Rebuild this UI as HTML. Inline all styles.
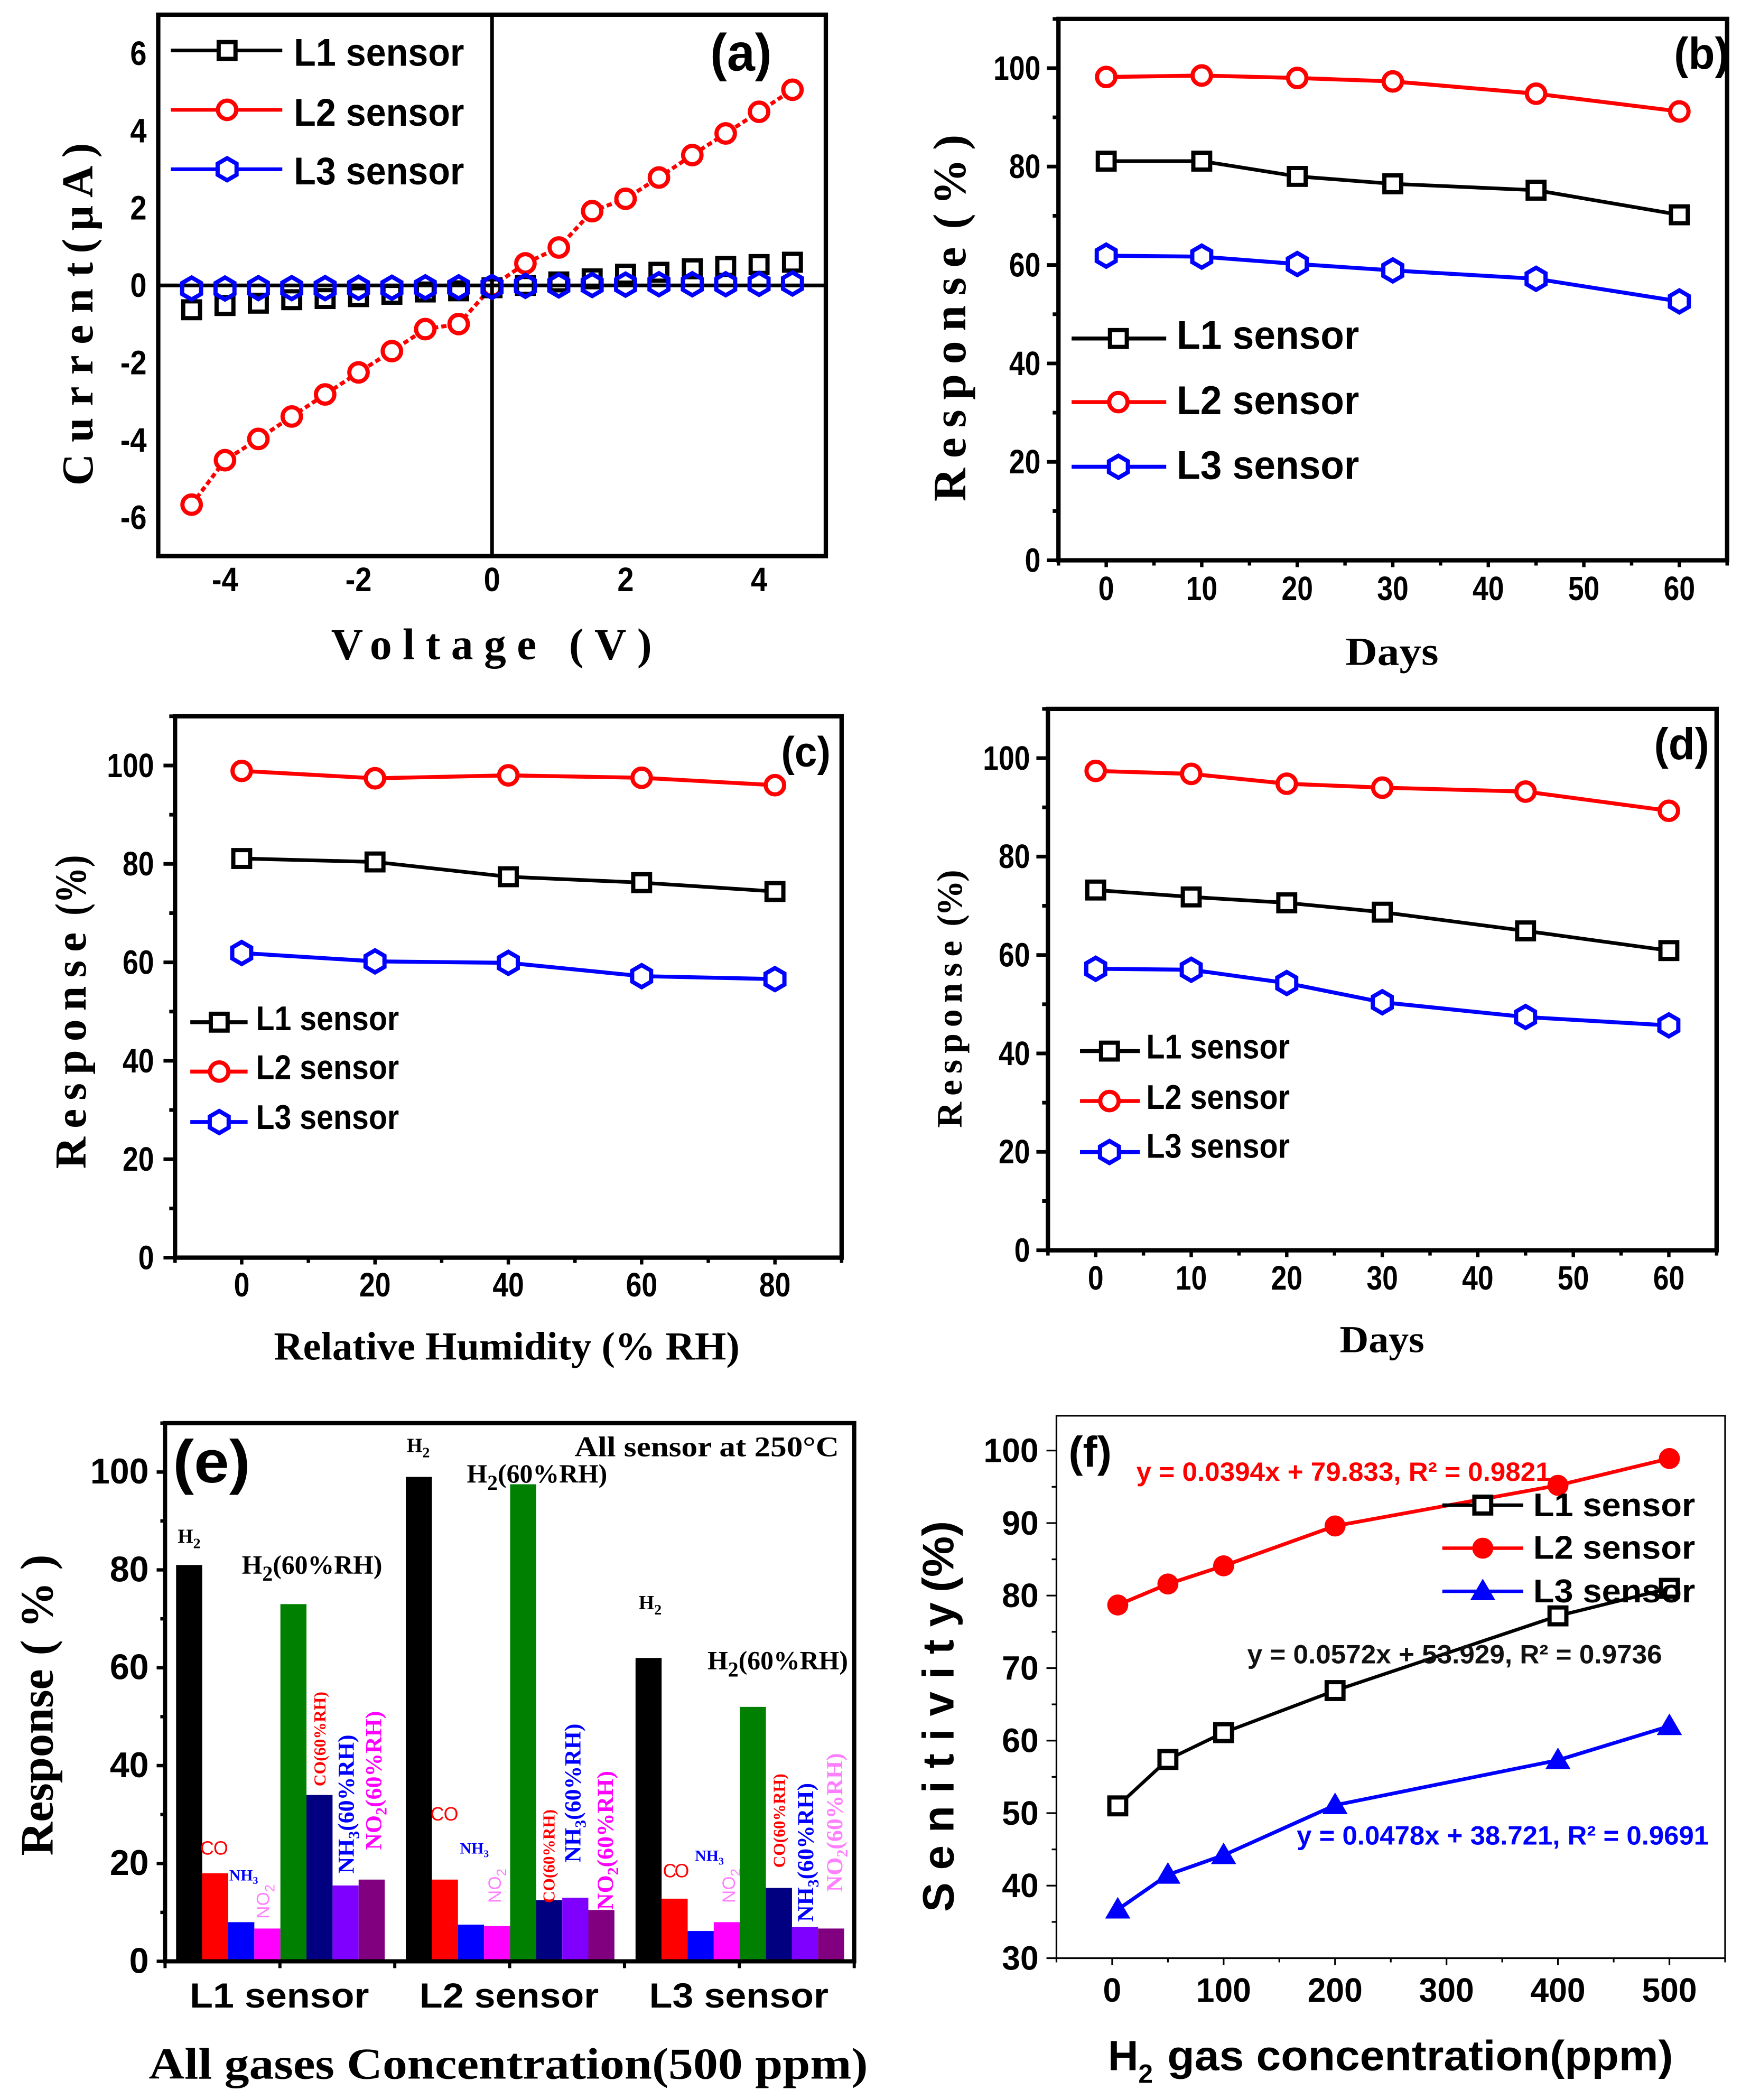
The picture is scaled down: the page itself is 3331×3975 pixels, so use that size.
<!DOCTYPE html>
<html lang="en">
<head>
<meta charset="utf-8">
<title>Gas sensor response charts</title>
<style>
html,body{margin:0;padding:0;background:#fff;}
svg{display:block;}
.s{font-family:"Liberation Sans",sans-serif;font-weight:700;}
.r{font-family:"Liberation Serif",serif;font-weight:700;}
</style>
</head>
<body>
<svg id="fig" xmlns="http://www.w3.org/2000/svg" width="3331" height="3975" viewBox="0 0 3331 3975">
<rect width="3331" height="3975" fill="#fff"/>
<g id="pa" transform="scale(.9949)"></g>
<g id="pb" transform="translate(8.47 0) scale(.9949)"></g>
<g id="pc" transform="translate(0 6.73) scale(.9949)"></g>
<g id="pd" transform="translate(8.47 6.73) scale(.9949)"></g>
<g id="pe" transform="translate(0 13.46) scale(.9949)"></g>
<g id="pf" transform="translate(8.67 13.46) scale(.9949)"></g>

<g transform="scale(.9949)">
<text class="r" x="630" y="1254" font-size="84" textLength="610" lengthAdjust="spacing">Voltage (V)</text>
<text class="r" transform="translate(176 924) rotate(-90)" font-size="84" textLength="425" lengthAdjust="spacing">Current</text>
<text class="r" transform="translate(176 482) rotate(-90)" font-size="84" textLength="210" lengthAdjust="spacing">(μA)</text>
<text class="s" x="559" y="125" font-size="74" textLength="324" lengthAdjust="spacingAndGlyphs">L1 sensor</text>
<text class="s" x="559" y="239" font-size="74" textLength="324" lengthAdjust="spacingAndGlyphs">L2 sensor</text>
<text class="s" x="559" y="351" font-size="74" textLength="324" lengthAdjust="spacingAndGlyphs">L3 sensor</text>
<text class="s" x="1351" y="134" font-size="100" textLength="117" lengthAdjust="spacingAndGlyphs">(a)</text>
</g>

<g transform="translate(8.47 0) scale(.9949)">
<text class="r" x="2551" y="1265" font-size="76" textLength="177" lengthAdjust="spacingAndGlyphs">Days</text>
<text class="r" transform="translate(1828 954) rotate(-90)" font-size="88" textLength="484" lengthAdjust="spacing">Response</text>
<text class="r" transform="translate(1828 436) rotate(-90)" font-size="88" textLength="180" lengthAdjust="spacing">(%)</text>
<text class="s" x="2230" y="664" font-size="76" textLength="347" lengthAdjust="spacingAndGlyphs">L1 sensor</text>
<text class="s" x="2230" y="788" font-size="76" textLength="347" lengthAdjust="spacingAndGlyphs">L2 sensor</text>
<text class="s" x="2230" y="911" font-size="76" textLength="347" lengthAdjust="spacingAndGlyphs">L3 sensor</text>
<text class="s" x="3176" y="131" font-size="85" textLength="105" lengthAdjust="spacingAndGlyphs">(b)</text>
</g>

<g transform="translate(0 6.73) scale(.9949)">
<text class="r" x="521" y="2580" font-size="76" textLength="886" lengthAdjust="spacingAndGlyphs">Relative Humidity (% RH)</text>
<text class="r" transform="translate(163 2217) rotate(-90)" font-size="84" textLength="450" lengthAdjust="spacing">Response</text>
<text class="r" transform="translate(163 1735) rotate(-90)" font-size="84" textLength="115" lengthAdjust="spacingAndGlyphs">(%)</text>
<text class="s" x="487" y="1953" font-size="65" textLength="272" lengthAdjust="spacingAndGlyphs">L1 sensor</text>
<text class="s" x="487" y="2046" font-size="65" textLength="272" lengthAdjust="spacingAndGlyphs">L2 sensor</text>
<text class="s" x="487" y="2141" font-size="65" textLength="272" lengthAdjust="spacingAndGlyphs">L3 sensor</text>
<text class="s" x="1486" y="1451" font-size="80" textLength="94" lengthAdjust="spacingAndGlyphs">(c)</text>
</g>

<g transform="translate(8.47 6.73) scale(.9949)">
<text class="r" x="2540" y="2566" font-size="72" textLength="161" lengthAdjust="spacingAndGlyphs">Days</text>
<text class="r" transform="translate(1821 2139) rotate(-90)" font-size="68" textLength="356" lengthAdjust="spacing">Response</text>
<text class="r" transform="translate(1821 1756) rotate(-90)" font-size="68" textLength="108" lengthAdjust="spacing">(%)</text>
<text class="s" x="2172" y="2007" font-size="65" textLength="273" lengthAdjust="spacingAndGlyphs">L1 sensor</text>
<text class="s" x="2172" y="2103" font-size="65" textLength="273" lengthAdjust="spacingAndGlyphs">L2 sensor</text>
<text class="s" x="2172" y="2196" font-size="65" textLength="273" lengthAdjust="spacingAndGlyphs">L3 sensor</text>
<text class="s" x="3138" y="1438" font-size="85" textLength="105" lengthAdjust="spacingAndGlyphs">(d)</text>
</g>

<g transform="translate(8.67 13.46) scale(.9949)">
<text class="s" x="2099" y="3925" font-size="80">H<tspan dy="24" font-size="50">2</tspan></text>
<text class="s" x="2212" y="3925" font-size="80" textLength="962" lengthAdjust="spacingAndGlyphs">gas concentration(ppm)</text>
<text class="s" transform="translate(1805 3624) rotate(-90)" font-size="84" textLength="589" lengthAdjust="spacing">Senitivity</text>
<text class="s" transform="translate(1805 3016) rotate(-90)" font-size="84" textLength="136" lengthAdjust="spacingAndGlyphs">(%)</text>
<text class="s" x="2024" y="2777" font-size="82" textLength="82" lengthAdjust="spacingAndGlyphs">(f)</text>
<text class="s" x="2153" y="2804" font-size="50" fill="#f00" textLength="788" lengthAdjust="spacingAndGlyphs">y = 0.0394x + 79.833, R² = 0.9821</text>
<text class="s" x="2364" y="3151" font-size="50" fill="#111" textLength="789" lengthAdjust="spacingAndGlyphs">y = 0.0572x + 53.929, R² = 0.9736</text>
<text class="s" x="2458" y="3496" font-size="50" fill="#00f" textLength="784" lengthAdjust="spacingAndGlyphs">y = 0.0478x + 38.721, R² = 0.9691</text>
<text class="s" x="2908" y="2871" font-size="62" textLength="308" lengthAdjust="spacingAndGlyphs">L1 sensor</text>
<text class="s" x="2908" y="2952" font-size="62" textLength="308" lengthAdjust="spacingAndGlyphs">L2 sensor</text>
<text class="s" x="2908" y="3035" font-size="62" textLength="308" lengthAdjust="spacingAndGlyphs">L3 sensor</text>
</g>

<g id="etext" transform="translate(0 13.46) scale(.9949)">
<text class="r" x="283" y="3941" font-size="84" textLength="1368" lengthAdjust="spacingAndGlyphs">All gases Concentration(500 ppm)</text>
<text class="r" transform="translate(100 3517) rotate(-90)" font-size="88" textLength="355" lengthAdjust="spacingAndGlyphs">Response</text>
<text class="r" transform="translate(100 3136) rotate(-90)" font-size="88" textLength="192" lengthAdjust="spacing">(%)</text>
<text class="s" x="329" y="2807" font-size="115" textLength="147" lengthAdjust="spacingAndGlyphs">(e)</text>
<text class="r" x="1093" y="2757" font-size="54" textLength="503" lengthAdjust="spacingAndGlyphs">All sensor at 250°C</text>

<text class="r" x="338" y="2922" font-size="38">H<tspan dy="10" font-size="28">2</tspan></text>
<text class="r" x="774" y="2749" font-size="38">H<tspan dy="10" font-size="28">2</tspan></text>
<text class="r" x="1215" y="3048" font-size="38">H<tspan dy="10" font-size="28">2</tspan></text>

<text class="r" x="460" y="2980" font-size="50">H<tspan dy="14" font-size="40">2</tspan><tspan dy="-14">(60%RH)</tspan></text>
<text class="r" x="888" y="2807" font-size="50">H<tspan dy="14" font-size="40">2</tspan><tspan dy="-14">(60%RH)</tspan></text>
<text class="r" x="1346" y="3162" font-size="50">H<tspan dy="14" font-size="40">2</tspan><tspan dy="-14">(60%RH)</tspan></text>

<text class="s" style="font-weight:400" x="381" y="3515" font-size="36" fill="#f00" textLength="53" lengthAdjust="spacing">CO</text>
<text class="s" style="font-weight:400" x="819" y="3450" font-size="36" fill="#f00" textLength="53" lengthAdjust="spacing">CO</text>
<text class="s" style="font-weight:400" x="1261" y="3558" font-size="36" fill="#f00" textLength="50" lengthAdjust="spacing">CO</text>

<text class="r" x="436" y="3564" font-size="30" fill="#00f">NH<tspan dy="7" font-size="20">3</tspan></text>
<text class="r" x="875" y="3513" font-size="30" fill="#00f">NH<tspan dy="7" font-size="20">3</tspan></text>
<text class="r" x="1322" y="3527" font-size="30" fill="#00f">NH<tspan dy="7" font-size="20">3</tspan></text>

<text class="s" style="font-weight:400" transform="translate(512 3637) rotate(-90)" font-size="34" fill="#ff80ff">NO<tspan dy="10" font-size="26">2</tspan></text>
<text class="s" style="font-weight:400" transform="translate(953 3607) rotate(-90)" font-size="34" fill="#ff80ff">NO<tspan dy="10" font-size="26">2</tspan></text>
<text class="s" style="font-weight:400" transform="translate(1398 3607) rotate(-90)" font-size="34" fill="#ff80ff">NO<tspan dy="10" font-size="26">2</tspan></text>

<text class="r" transform="translate(619 3385) rotate(-90)" font-size="32" fill="#f00" textLength="180" lengthAdjust="spacingAndGlyphs">CO(60%RH)</text>
<text class="r" transform="translate(1055 3607) rotate(-90)" font-size="32" fill="#f00" textLength="178" lengthAdjust="spacingAndGlyphs">CO(60%RH)</text>
<text class="r" transform="translate(1493 3540) rotate(-90)" font-size="32" fill="#f00" textLength="179" lengthAdjust="spacingAndGlyphs">CO(60%RH)</text>

<text class="r" transform="translate(673 3551) rotate(-90)" font-size="44" fill="#00f">NH<tspan dy="10" font-size="30">3</tspan><tspan dy="-10">(60%RH)</tspan></text>
<text class="r" transform="translate(1104 3530) rotate(-90)" font-size="44" fill="#00f">NH<tspan dy="10" font-size="30">3</tspan><tspan dy="-10">(60%RH)</tspan></text>
<text class="r" transform="translate(1547 3643) rotate(-90)" font-size="44" fill="#00f">NH<tspan dy="10" font-size="30">3</tspan><tspan dy="-10">(60%RH)</tspan></text>

<text class="r" transform="translate(725 3506) rotate(-90)" font-size="44" fill="#f0f">NO<tspan dy="10" font-size="30">2</tspan><tspan dy="-10">(60%RH)</tspan></text>
<text class="r" transform="translate(1166 3620) rotate(-90)" font-size="44" fill="#f0f">NO<tspan dy="10" font-size="30">2</tspan><tspan dy="-10">(60%RH)</tspan></text>
<text class="r" transform="translate(1602 3586) rotate(-90)" font-size="44" fill="#ff80ff">NO<tspan dy="10" font-size="30">2</tspan><tspan dy="-10">(60%RH)</tspan></text>
</g>
</svg>

<script>
/* ---- Panel (a) I-V data ---- */
const aVoltage = [-4.5,-4,-3.5,-3,-2.5,-2,-1.5,-1,-0.5,0,0.5,1,1.5,2,2.5,3,3.5,4,4.5];
const aL1 = [-0.63,-0.52,-0.46,-0.37,-0.34,-0.29,-0.23,-0.17,-0.14,-0.06,0,0.09,0.17,0.29,0.34,0.43,0.49,0.54,0.6];
const aL2 = [-5.67,-4.52,-3.97,-3.39,-2.82,-2.25,-1.7,-1.13,-1.0,-0.03,0.57,0.98,1.92,2.24,2.79,3.37,3.93,4.49,5.06];
const aL3 = [-0.08,-0.08,-0.07,-0.07,-0.07,-0.06,-0.06,-0.05,-0.05,-0.04,-0.01,0,0.01,0.02,0.03,0.03,0.03,0.04,0.05];
const aXTicks = [-4,-2,0,2,4];
const aYTicks = [-6,-4,-2,0,2,4,6];

/* ---- Panel (b) stability ---- */
const bDays = [0,10,20,30,45,60];
const bL1 = [81.1,81.1,78,76.5,75.2,70.2];
const bL2 = [98.2,98.5,98,97.3,94.8,91.2];
const bL3 = [61.9,61.7,60.2,58.9,57.2,52.6];

/* ---- Panel (c) humidity ---- */
const cHumidity = [0,20,40,60,80];
const cL1 = [81.1,80.4,77.4,76.2,74.4];
const cL2 = [98.9,97.4,98,97.5,96];
const cL3 = [61.9,60.2,59.9,57.2,56.6];

/* ---- Panel (d) stability in humidity ---- */
const dDays = [0,10,20,30,45,60];
const dL1 = [73.2,71.8,70.6,68.7,64.9,60.9];
const dL2 = [97.4,96.8,94.8,94,93.2,89.3];
const dL3 = [57.2,57,54.3,50.4,47.4,45.7];

/* ---- Panel (e) selectivity ---- */
const eCategories = ["L1 sensor","L2 sensor","L3 sensor"];
const eGases = ["h2","co","nh3","no2","h2-humid","co-humid","nh3-humid","no2-humid"];
const eL1 = [81,18,8,6.7,73,34,15.5,16.7];
const eL2 = [99,16.7,7.5,7.2,97.5,12.5,13,10.5];
const eL3 = [62,12.8,6.2,8,52,15,7,6.7];

/* ---- Panel (f) concentration ---- */
const fConc = [5,50,100,200,400,500];
const fL1 = [51,57.4,61.1,66.9,77.2,81];
const fL2 = [78.7,81.6,84.1,89.6,95.2,98.9];
const fL3 = [36.7,41.5,44.2,51.1,57.3,62];

/* ---- Shared tick labels ---- */
const responseTicks = [0,20,40,60,80,100];
const dayTicks = [0,10,20,30,40,50,60];
const humidityTicks = [0,20,40,60,80];
const fXTicks = [0,100,200,300,400,500];
const fYTicks = [30,40,50,60,70,80,90,100];

const NS = "http://www.w3.org/2000/svg";
const BLACK = "#000", RED = "#f00", BLUE = "#00f";
const barColors = ["#000","#f00","#00f","#f0f","#008000","#000080","#8000ff","#800080"];

function mk(parent, tag, attrs, name) {
  const el = document.createElementNS(NS, tag);
  for (const k in attrs) el.setAttribute(k, attrs[k]);
  
  
  parent.appendChild(el);
  return el;
}
function scale(d0, d1, r0, r1) {
  return v => r0 + (v - d0) * (r1 - r0) / (d1 - d0);
}
function line(p, x1, y1, x2, y2, color, w, name) {
  return mk(p, "line", {x1, y1, x2, y2, stroke: color, "stroke-width": w, "stroke-linecap": "butt"}, name);
}
function tickText(p, x, y, str, size, stretch, anchor, name) {
  const units = String(str).split("").reduce((a, c) => a + (c === "-" ? 0.333 : 0.556), 0);
  const t = mk(p, "text", {
    x, y, "font-size": size, "text-anchor": anchor, "class": "s",
    textLength: (units * size * stretch).toFixed(1), lengthAdjust: "spacingAndGlyphs"
  }, name);
  t.textContent = str;
  return t;
}
function marker(p, kind, x, y, color, fill, sw, name) {
  if (kind === "square") {
    return mk(p, "rect", {x: x - 16, y: y - 16, width: 32, height: 32, fill, stroke: color, "stroke-width": sw}, name);
  }
  if (kind === "circle") {
    return mk(p, "circle", {cx: x, cy: y, r: 17.5, fill, stroke: color, "stroke-width": sw}, name);
  }
  if (kind === "hex") {
    const r = 21, a = 18;
    const pts = [[0,-r],[a,-r/2],[a,r/2],[0,r],[-a,r/2],[-a,-r/2]].map(q => (x+q[0])+","+(y+q[1])).join(" ");
    return mk(p, "polygon", {points: pts, fill, stroke: color, "stroke-width": sw}, name);
  }
  if (kind === "disc") {
    return mk(p, "ellipse", {cx: x, cy: y, rx: 20, ry: 20, fill: color}, name);
  }
  const pts = [[0,-24],[24,17],[-24,17]].map(q => (x+q[0])+","+(y+q[1])).join(" ");
  return mk(p, "polygon", {points: pts, fill: color}, name);
}
function series(p, xs, ys, sx, sy, color, kind, fill, w, prefix, dash) {
  if (w > 0) {
    const pts = xs.map((v, i) => sx(v).toFixed(1) + "," + sy(ys[i]).toFixed(1)).join(" ");
    const a = {points: pts, fill: "none", stroke: color, "stroke-width": w, "stroke-linejoin": "round"};
    if (dash) a["stroke-dasharray"] = dash;
    mk(p, "polyline", a, prefix + "-line");
  }
  xs.forEach((v, i) => marker(p, kind, sx(v), sy(ys[i]), color, fill, 8, prefix + "-point"));
}
function legendLine(p, x1, x2, mx, y, color, kind, fill, w, name) {
  line(p, x1, y, x2, y, color, w, name + "-line");
  marker(p, kind, mx, y, color, fill, 8, name + "-marker");
}
function frame(p, l, t, r, b, w, name) {
  return mk(p, "rect", {x: l, y: t, width: r - l, height: b - t, fill: "none", stroke: "#000", "stroke-width": w}, name);
}
function yAxisTicks(p, prefix, l, sy, ticks, minors, lbl, w) {
  ticks.forEach(v => {
    line(p, l - lbl.major, sy(v), l, sy(v), "#000", w, prefix + "-y-major-tick");
    tickText(p, lbl.x, sy(v) + 22, v, lbl.size, lbl.stretch, "end", prefix + "-y-tick-label");
  });
  minors.forEach(v => line(p, l - lbl.minor, sy(v), l, sy(v), "#000", w, prefix + "-y-minor-tick"));
}
function xAxisTicks(p, prefix, b, sx, ticks, minors, lbl, w) {
  ticks.forEach(v => {
    line(p, sx(v), b, sx(v), b + lbl.major, "#000", w, prefix + "-x-major-tick");
    tickText(p, sx(v), lbl.y, v, lbl.size, lbl.stretch, "middle", prefix + "-x-tick-label");
  });
  minors.forEach(v => line(p, sx(v), b, sx(v), b + lbl.minor, "#000", w, prefix + "-x-minor-tick"));
}
const respMinor = [10,30,50,70,90,110];

/* Panel a */
(function () {
  const p = document.getElementById("pa");
  const L = 301, R = 1571, T = 28, B = 1058;
  const sx = scale(-5, 5, L, R), sy = scale(-7, 7, B, T);
  series(p, aVoltage, aL2, sx, sy, RED, "circle", "#fff", 7.5, "a-l2", "10 6");
  line(p, sx(0), T, sx(0), B, "#000", 7, "a-vertical-zero-line");
  line(p, L, sy(0), R, sy(0), "#000", 7, "a-horizontal-zero-line");
  series(p, aVoltage, aL1, sx, sy, BLACK, "square", "none", 0, "a-l1");
  series(p, aVoltage, aL3, sx, sy, BLUE, "hex", "none", 0, "a-l3");
  frame(p, L, T, R, B, 8.3, "a-plot-frame");
  aXTicks.forEach(v => tickText(p, sx(v), 1125, v, 64, 0.88, "middle", "a-x-tick-label"));
  aYTicks.forEach(v => tickText(p, 279, sy(v) + 22, v, 64, 0.88, "end", "a-y-tick-label"));
  legendLine(p, 325, 537, 432, 96, BLACK, "square", "#fff", 7, "a-legend-l1");
  legendLine(p, 325, 537, 432, 209, RED, "circle", "#fff", 7, "a-legend-l2");
  legendLine(p, 325, 537, 432, 322, BLUE, "hex", "#fff", 7, "a-legend-l3");
})();

function timePanel(id, prefix, geom, xs, l1, l2, l3, xTicks, xMinors, xd0, xd1, lbl, leg, legw) {
  const p = document.getElementById(id);
  const sx = scale(xd0, xd1, geom.L, geom.R), sy = scale(0, 110, geom.B, geom.T);
  series(p, xs, l1, sx, sy, BLACK, "square", "#fff", 7, prefix + "-l1");
  series(p, xs, l2, sx, sy, RED, "circle", "#fff", 7.5, prefix + "-l2");
  series(p, xs, l3, sx, sy, BLUE, "hex", "#fff", 7.5, prefix + "-l3");
  frame(p, geom.L, geom.T, geom.R, geom.B, 8.3, prefix + "-plot-frame");
  yAxisTicks(p, prefix, geom.L, sy, responseTicks, respMinor, {x: lbl.yx, size: 64, stretch: 0.84, major: 22, minor: 11}, 7);
  xAxisTicks(p, prefix, geom.B, sx, xTicks, xMinors, {y: lbl.xy, size: 64, stretch: 0.84, major: 13, minor: 10}, 6.5);
  legendLine(p, leg.x1, leg.x2, leg.mx, leg.y[0], BLACK, "square", "#fff", legw, prefix + "-legend-l1");
  legendLine(p, leg.x1, leg.x2, leg.mx, leg.y[1], RED, "circle", "#fff", legw, prefix + "-legend-l2");
  legendLine(p, leg.x1, leg.x2, leg.mx, leg.y[2], BLUE, "hex", "#fff", legw, prefix + "-legend-l3");
}
const dayMinors = [-5,5,15,25,35,45,55,65];
timePanel("pb", "b", {L: 2005, R: 3277, T: 36, B: 1066}, bDays, bL1, bL2, bL3, dayTicks, dayMinors, -5, 65,
  {yx: 1971, xy: 1142}, {x1: 2030, x2: 2210, mx: 2119, y: [644, 765, 888]}, 7.5);
timePanel("pc", "c", {L: 333, R: 1601, T: 1356, B: 2386}, cHumidity, cL1, cL2, cL3, humidityTicks, [-10,10,30,50,70,90], -10, 90,
  {yx: 293, xy: 2460}, {x1: 362, x2: 471, mx: 417, y: [1938, 2032, 2128]}, 7.5);
timePanel("pd", "d", {L: 1985, R: 3257, T: 1342, B: 2372}, dDays, dL1, dL2, dL3, dayTicks, dayMinors, -5, 65,
  {yx: 1951, xy: 2447}, {x1: 2046, x2: 2160, mx: 2102, y: [1993, 2088, 2185]}, 7.5);

/* Panel e */
(function () {
  const p = document.getElementById("pe");
  const L = 314, R = 1625, T = 2694, B = 3718;
  const sy = scale(0, 110, B, T);
  const groupW = (R - L) / eCategories.length, barW = 49.6, pad = 21;
  [eL1, eL2, eL3].forEach((vals, g) => {
    vals.forEach((v, j) => {
      const x = L + g * groupW + pad + j * barW;
      mk(p, "rect", {x: x.toFixed(1), y: sy(v).toFixed(1), width: barW, height: (B - sy(v)).toFixed(1), fill: barColors[j]},
        "e-bar-" + eCategories[g].slice(0, 2).toLowerCase() + "-" + eGases[j]);
    });
  });
  frame(p, L, T, R, B, 8, "e-plot-frame");
  yAxisTicks(p, "e", L, sy, responseTicks, respMinor, {x: 283, size: 68, stretch: 0.98, major: 16, minor: 9}, 6.5);
  eCategories.forEach((c, i) => {
    const cx = L + (i + 0.5) * groupW;
    line(p, cx, B, cx, B + 13, "#000", 6, "e-x-major-tick");
    line(p, L + i * groupW, B, L + i * groupW, B + 13, "#000", 6, "e-x-minor-tick");
    const t = mk(p, "text", {x: cx - 1, y: 3806, "font-size": 66, "class": "s", "text-anchor": "middle", textLength: 341, lengthAdjust: "spacingAndGlyphs"}, "e-x-tick-label");
    t.textContent = c;
  });
  line(p, R, B, R, B + 13, "#000", 6, "e-x-minor-tick");
})();

/* Panel f */
(function () {
  const p = document.getElementById("pf");
  const L = 2001, R = 3273, T = 2680, B = 3712;
  const sx = scale(-50, 550, L, R), sy = scale(30, 104.8, B, T);
  frame(p, L, T, R, B, 3.2, "f-plot-frame");
  series(p, fConc, fL2, sx, sy, RED, "disc", RED, 7, "f-l2");
  series(p, fConc, fL1, sx, sy, BLACK, "square", "#fff", 6.5, "f-l1");
  series(p, fConc, fL3, sx, sy, BLUE, "tri", BLUE, 7, "f-l3");
  yAxisTicks(p, "f", L, sy, fYTicks, [35,45,55,65,75,85,95], {x: 1967, size: 64, stretch: 0.98, major: 19, minor: 9}, 3.2);
  xAxisTicks(p, "f", B, sx, fXTicks, [-50,50,150,250,350,450,550], {y: 3795, size: 64, stretch: 0.98, major: 13, minor: 8}, 3.2);
  legendLine(p, 2735, 2889, 2812, 2850, BLACK, "square", "#fff", 6.5, "f-legend-l1");
  legendLine(p, 2735, 2889, 2812, 2932, RED, "disc", RED, 6.5, "f-legend-l2");
  legendLine(p, 2735, 2889, 2812, 3014, BLUE, "tri", BLUE, 6.5, "f-legend-l3");
})();
</script>
</body>
</html>
